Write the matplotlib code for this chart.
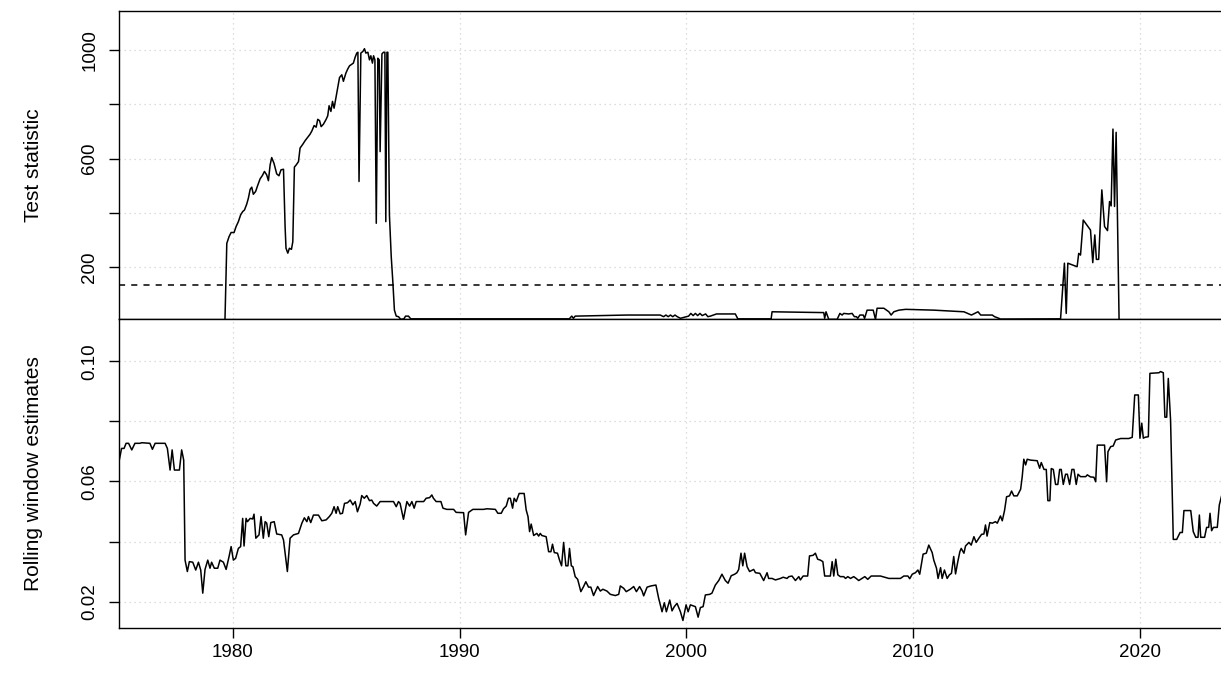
import matplotlib
matplotlib.use("Agg")
import matplotlib.pyplot as plt

plt.rcParams['font.family'] = ['Liberation Sans', 'DejaVu Sans']

# test statistic (top panel)
stat_year = [1979.66, 1979.74, 1979.84, 1979.93, 1980.06, 1980.15, 1980.25, 1980.35, 1980.44,
             1980.52, 1980.62, 1980.69, 1980.77, 1980.84, 1980.91, 1981.01, 1981.10, 1981.21,
             1981.31, 1981.40, 1981.50, 1981.575, 1981.65, 1981.72, 1981.82, 1981.94, 1982.04,
             1982.13, 1982.24, 1982.31, 1982.35, 1982.43, 1982.50, 1982.59, 1982.65, 1982.72,
             1982.80, 1982.90, 1982.97, 1983.09, 1983.19, 1983.31, 1983.41, 1983.49, 1983.59,
             1983.68, 1983.75, 1983.83, 1983.90, 1984.00, 1984.12, 1984.19, 1984.25, 1984.33,
             1984.40, 1984.47, 1984.55, 1984.62, 1984.71, 1984.81, 1984.88, 1984.99, 1985.07,
             1985.15, 1985.25, 1985.32, 1985.40, 1985.47, 1985.52, 1985.57, 1985.65, 1985.74,
             1985.81, 1985.87, 1985.96, 1986.03, 1986.09, 1986.16, 1986.21, 1986.27, 1986.33,
             1986.40, 1986.46, 1986.50, 1986.58, 1986.65, 1986.71, 1986.75, 1986.80, 1986.84,
             1986.91, 1986.99, 1987.06, 1987.13, 1987.21, 1987.31, 1987.41, 1987.55, 1987.62,
             1987.75, 1987.85, 1994.85, 1994.88, 1994.95, 1995.02, 1995.10, 1997.38, 1998.85,
             1999.00, 1999.10, 1999.20, 1999.30, 1999.40, 1999.50, 1999.60, 1999.74, 2000.10,
             2000.20, 2000.30, 2000.40, 2000.50, 2000.60, 2000.70, 2000.85, 2000.95, 2001.06,
             2001.33, 2002.16, 2002.27, 2003.74, 2003.78, 2006.06, 2006.10, 2006.16, 2006.28,
             2006.65, 2006.77, 2006.87, 2006.94, 2007.16, 2007.31, 2007.41, 2007.50, 2007.56,
             2007.65, 2007.80, 2007.86, 2007.97, 2008.24, 2008.34, 2008.41, 2008.71, 2008.93,
             2009.03, 2009.15, 2009.37, 2009.67, 2010.92, 2012.24, 2012.57, 2012.86, 2012.98,
             2013.49, 2013.59, 2013.78, 2013.85, 2016.50, 2016.67, 2016.75, 2016.82, 2017.23,
             2017.30, 2017.38, 2017.50, 2017.82, 2017.92, 2018.01, 2018.08, 2018.18, 2018.32,
             2018.44, 2018.57, 2018.66, 2018.73, 2018.81, 2018.88, 2018.95, 2019.08]
stat_val = [8, 288, 313, 328, 328, 350, 368, 393, 405,
            411, 433, 454, 487, 495, 469, 479, 501, 526,
            538, 553, 540, 519, 577, 604, 583, 544, 537,
            559, 561, 350, 270, 252, 270, 266, 294, 569,
            577, 589, 639, 653, 666, 679, 690, 702, 722,
            716, 745, 740, 718, 727, 745, 758, 795, 774,
            811, 786, 823, 854, 899, 909, 885, 915, 930,
            942, 948, 952, 974, 989, 992, 516, 989, 995,
            1005, 989, 992, 964, 979, 952, 979, 964, 362,
            970, 964, 626, 986, 992, 992, 368, 992, 992,
            393, 239, 147, 42, 20, 18, 8, 10, 20,
            20, 10, 10, 14, 20, 12, 20, 24, 24,
            18, 24, 18, 24, 18, 24, 18, 12, 20,
            30, 22, 30, 22, 30, 22, 28, 18, 20,
            28, 28, 10, 10, 36, 33, 12, 36, 8,
            8, 30, 24, 30, 28, 30, 18, 18, 12,
            24, 24, 12, 42, 42, 8, 49, 49, 36,
            24, 36, 42, 45, 42, 36, 24, 36, 24,
            24, 18, 12, 9, 10, 215, 30, 215, 202,
            251, 245, 374, 337, 217, 319, 229, 229, 485,
            350, 335, 442, 426, 709, 424, 697, 8]
crit_value = 136

# rolling window estimates (bottom panel)
roll_year = [1975.00, 1975.10, 1975.21, 1975.30, 1975.41, 1975.55, 1975.69, 1975.91, 1975.99,
             1976.35, 1976.46, 1976.58, 1977.02, 1977.12, 1977.24, 1977.33, 1977.43, 1977.65,
             1977.75, 1977.84, 1977.90, 1978.00, 1978.09, 1978.24, 1978.37, 1978.49, 1978.59,
             1978.68, 1978.78, 1978.90, 1979.00, 1979.07, 1979.19, 1979.34, 1979.44, 1979.59,
             1979.71, 1979.84, 1979.93, 1980.03, 1980.13, 1980.25, 1980.35, 1980.44, 1980.50,
             1980.59, 1980.65, 1980.77, 1980.88, 1980.94, 1981.02, 1981.16, 1981.25, 1981.35,
             1981.43, 1981.50, 1981.59, 1981.68, 1981.83, 1981.94, 1982.16, 1982.24, 1982.41,
             1982.53, 1982.68, 1982.90, 1983.05, 1983.16, 1983.27, 1983.34, 1983.44, 1983.56,
             1983.78, 1983.93, 1984.12, 1984.26, 1984.37, 1984.47, 1984.56, 1984.63, 1984.74,
             1984.84, 1984.93, 1985.06, 1985.18, 1985.30, 1985.40, 1985.50, 1985.62, 1985.69,
             1985.80, 1985.91, 1986.03, 1986.13, 1986.21, 1986.35, 1986.50, 1987.09, 1987.21,
             1987.31, 1987.38, 1987.53, 1987.68, 1987.80, 1987.90, 1988.00, 1988.09, 1988.42,
             1988.53, 1988.68, 1988.78, 1988.85, 1988.97, 1989.18, 1989.27, 1989.44, 1989.74,
             1989.85, 1990.18, 1990.27, 1990.40, 1990.59, 1991.06, 1991.21, 1991.58, 1991.69,
             1991.84, 1991.94, 1992.06, 1992.16, 1992.24, 1992.34, 1992.41, 1992.50, 1992.63,
             1992.85, 1992.94, 1993.02, 1993.09, 1993.16, 1993.27, 1993.41, 1993.49, 1993.56,
             1993.63, 1993.82, 1993.93, 1994.03, 1994.10, 1994.18, 1994.32, 1994.41, 1994.50,
             1994.59, 1994.69, 1994.78, 1994.85, 1994.93, 1995.00, 1995.10, 1995.21, 1995.35,
             1995.47, 1995.57, 1995.69, 1995.79, 1995.91, 1996.09, 1996.21, 1996.32, 1996.50,
             1996.65, 1996.87, 1997.02, 1997.09, 1997.24, 1997.35, 1997.53, 1997.68, 1997.80,
             1997.94, 1998.05, 1998.12, 1998.27, 1998.44, 1998.66, 1998.78, 1998.93, 1999.03,
             1999.12, 1999.27, 1999.37, 1999.47, 1999.59, 1999.74, 1999.85, 1999.99, 2000.08,
             2000.18, 2000.40, 2000.52, 2000.62, 2000.74, 2000.84, 2001.03, 2001.13, 2001.28,
             2001.43, 2001.57, 2001.72, 2001.84, 2001.98, 2002.13, 2002.23, 2002.31, 2002.41,
             2002.49, 2002.57, 2002.68, 2002.79, 2002.97, 2003.05, 2003.24, 2003.41, 2003.56,
             2003.63, 2003.78, 2003.93, 2004.15, 2004.27, 2004.44, 2004.52, 2004.66, 2004.81,
             2004.96, 2005.03, 2005.15, 2005.35, 2005.43, 2005.59, 2005.69, 2005.79, 2005.91,
             2006.02, 2006.10, 2006.35, 2006.43, 2006.50, 2006.59, 2006.68, 2006.79, 2006.94,
             2007.02, 2007.12, 2007.24, 2007.38, 2007.49, 2007.60, 2007.75, 2007.87, 2008.00,
             2008.15, 2008.56, 2008.93, 2009.44, 2009.59, 2009.77, 2009.85, 2009.96, 2010.10,
             2010.21, 2010.29, 2010.44, 2010.58, 2010.69, 2010.84, 2010.91, 2011.03, 2011.10,
             2011.21, 2011.28, 2011.38, 2011.50, 2011.60, 2011.69, 2011.79, 2011.87, 2011.97,
             2012.06, 2012.12, 2012.24, 2012.31, 2012.46, 2012.56, 2012.68, 2012.78, 2012.90,
             2013.02, 2013.12, 2013.19, 2013.26, 2013.38, 2013.49, 2013.63, 2013.71, 2013.85,
             2013.93, 2014.03, 2014.12, 2014.25, 2014.34, 2014.44, 2014.59, 2014.74, 2014.81,
             2014.88, 2014.96, 2015.03, 2015.18, 2015.47, 2015.58, 2015.65, 2015.77, 2015.87,
             2015.94, 2016.03, 2016.09, 2016.18, 2016.28, 2016.38, 2016.46, 2016.53, 2016.62,
             2016.72, 2016.80, 2016.90, 2017.00, 2017.09, 2017.19, 2017.27, 2017.38, 2017.61,
             2017.68, 2017.82, 2017.97, 2018.05, 2018.12, 2018.44, 2018.53, 2018.59, 2018.71,
             2018.82, 2018.93, 2019.15, 2019.51, 2019.66, 2019.77, 2019.93, 2020.00, 2020.08,
             2020.15, 2020.22, 2020.37, 2020.44, 2020.84, 2020.91, 2021.03, 2021.10, 2021.18,
             2021.25, 2021.35, 2021.47, 2021.62, 2021.77, 2021.87, 2021.94, 2022.24, 2022.35,
             2022.46, 2022.56, 2022.62, 2022.68, 2022.85, 2022.94, 2023.03, 2023.09, 2023.16,
             2023.24, 2023.41, 2023.50, 2023.60]
roll_est = [0.0671, 0.0710, 0.0710, 0.0727, 0.0727, 0.0705, 0.0727, 0.0727, 0.0729,
            0.0727, 0.0707, 0.0727, 0.0727, 0.0710, 0.0638, 0.0705, 0.0638, 0.0638,
            0.0705, 0.0671, 0.0338, 0.0300, 0.0333, 0.0331, 0.0305, 0.0331, 0.0305,
            0.0228, 0.0307, 0.0338, 0.0311, 0.0331, 0.0311, 0.0311, 0.0338, 0.0331,
            0.0307, 0.0350, 0.0383, 0.0338, 0.0344, 0.0377, 0.0383, 0.0477, 0.0385,
            0.0477, 0.0466, 0.0477, 0.0475, 0.0491, 0.0411, 0.0422, 0.0483, 0.0411,
            0.0466, 0.0461, 0.0416, 0.0463, 0.0466, 0.0425, 0.0422, 0.0405, 0.0300,
            0.0411, 0.0422, 0.0427, 0.0461, 0.0479, 0.0466, 0.0483, 0.0463, 0.0488,
            0.0488, 0.0469, 0.0472, 0.0483, 0.0494, 0.0516, 0.0494, 0.0516, 0.0492,
            0.0494, 0.0527, 0.0529, 0.0538, 0.0522, 0.0533, 0.0499, 0.0525, 0.0553,
            0.0544, 0.0553, 0.0536, 0.0538, 0.0527, 0.0518, 0.0533, 0.0533, 0.0516,
            0.0533, 0.0527, 0.0474, 0.0533, 0.0518, 0.0533, 0.0511, 0.0533, 0.0533,
            0.0544, 0.0546, 0.0555, 0.0544, 0.0533, 0.0533, 0.0511, 0.0507, 0.0507,
            0.0497, 0.0496, 0.0422, 0.0497, 0.0507, 0.0507, 0.0509, 0.0507, 0.0494,
            0.0494, 0.0509, 0.0518, 0.0544, 0.0544, 0.0511, 0.0544, 0.0533, 0.0560,
            0.0560, 0.0505, 0.0483, 0.0433, 0.0458, 0.0420, 0.0427, 0.0418, 0.0427,
            0.0420, 0.0416, 0.0366, 0.0366, 0.0391, 0.0363, 0.0361, 0.0338, 0.0319,
            0.0397, 0.0319, 0.0319, 0.0377, 0.0319, 0.0316, 0.0283, 0.0274, 0.0233,
            0.0250, 0.0266, 0.0248, 0.0248, 0.0220, 0.0250, 0.0235, 0.0241, 0.0235,
            0.0224, 0.0220, 0.0224, 0.0252, 0.0244, 0.0233, 0.0241, 0.0250, 0.0233,
            0.0250, 0.0235, 0.0219, 0.0248, 0.0252, 0.0255, 0.0211, 0.0166, 0.0196,
            0.0166, 0.0205, 0.0169, 0.0183, 0.0194, 0.0166, 0.0137, 0.0189, 0.0166,
            0.0189, 0.0183, 0.0148, 0.0180, 0.0183, 0.0222, 0.0224, 0.0228, 0.0255,
            0.0270, 0.0291, 0.0270, 0.0261, 0.0286, 0.0291, 0.0296, 0.0307, 0.0361,
            0.0319, 0.0361, 0.0316, 0.0300, 0.0307, 0.0296, 0.0294, 0.0270, 0.0296,
            0.0277, 0.0277, 0.0272, 0.0277, 0.0281, 0.0277, 0.0283, 0.0285, 0.0270,
            0.0283, 0.0272, 0.0285, 0.0285, 0.0352, 0.0354, 0.0361, 0.0341, 0.0338,
            0.0333, 0.0285, 0.0285, 0.0333, 0.0285, 0.0341, 0.0289, 0.0283, 0.0283,
            0.0277, 0.0283, 0.0277, 0.0283, 0.0277, 0.0270, 0.0277, 0.0283, 0.0274,
            0.0285, 0.0285, 0.0277, 0.0277, 0.0285, 0.0285, 0.0276, 0.0291, 0.0296,
            0.0305, 0.0291, 0.0358, 0.0361, 0.0388, 0.0363, 0.0338, 0.0311, 0.0277,
            0.0313, 0.0277, 0.0305, 0.0277, 0.0289, 0.0294, 0.0350, 0.0292, 0.0333,
            0.0366, 0.0377, 0.0361, 0.0385, 0.0397, 0.0388, 0.0416, 0.0397, 0.0411,
            0.0424, 0.0425, 0.0455, 0.0418, 0.0463, 0.0461, 0.0466, 0.0461, 0.0485,
            0.0469, 0.0503, 0.0549, 0.0552, 0.0568, 0.0552, 0.0552, 0.0574, 0.0616,
            0.0674, 0.0655, 0.0674, 0.0671, 0.0669, 0.0644, 0.0663, 0.0640, 0.0640,
            0.0536, 0.0536, 0.0643, 0.0640, 0.0590, 0.0590, 0.0640, 0.0640, 0.0590,
            0.0624, 0.0624, 0.0590, 0.0640, 0.0640, 0.0590, 0.0624, 0.0616, 0.0616,
            0.0622, 0.0615, 0.0614, 0.0599, 0.0721, 0.0721, 0.0599, 0.0699, 0.0716,
            0.0718, 0.0738, 0.0743, 0.0743, 0.0747, 0.0888, 0.0888, 0.0744, 0.0794,
            0.0744, 0.0747, 0.0749, 0.0960, 0.0962, 0.0966, 0.0962, 0.0814, 0.0814,
            0.0943, 0.0805, 0.0407, 0.0407, 0.0430, 0.0430, 0.0503, 0.0503, 0.0433,
            0.0414, 0.0414, 0.0488, 0.0414, 0.0414, 0.0447, 0.0447, 0.0494, 0.0436,
            0.0447, 0.0447, 0.0522, 0.0552]

year_ticks = [1980, 1990, 2000, 2010, 2020]
stat_ticks = [200, 400, 600, 800, 1000]
stat_labels = ['200', '', '600', '', '1000']
roll_ticks = [0.02, 0.04, 0.06, 0.08, 0.10]
roll_labels = ['0.02', '', '0.06', '', '0.10']

fig = plt.figure(figsize=(12.21, 6.83), dpi=100)
ax1 = fig.add_axes([0.0977, 0.5325, 0.9039, 0.4518])
ax2 = fig.add_axes([0.0977, 0.081, 0.9039, 0.4515])

grid_kw = dict(color='#D3D3D3', linestyle=(0, (1, 3)), linewidth=0.9)

for ax in (ax1, ax2):
    ax.set_xlim(1975.0, 2023.66)
    for yr in year_ticks:
        ax.axvline(yr, zorder=0, **grid_kw)
    for s in ax.spines.values():
        s.set_linewidth(1.0)
    ax.tick_params(axis='y', direction='out', length=7, width=1.0, labelsize=13.5, pad=8)
    ax.tick_params(axis='x', direction='out', length=7, width=1.0, labelsize=13.5, pad=5)

# top panel
ax1.plot(stat_year, stat_val, color='black', linewidth=1.1)
ax1.axhline(crit_value, color='black', linestyle=(0, (4, 4)), linewidth=1.1)
for v in stat_ticks:
    ax1.axhline(v, zorder=0, **grid_kw)
ax1.set_ylim(8.3, 1145)
ax1.set_yticks(stat_ticks)
ax1.set_yticklabels(stat_labels, rotation=90, va='center')
ax1.set_xticks([])
ax1.set_ylabel('Test statistic', fontsize=15, va='center')
ax1.yaxis.set_label_coords(-0.078, 0.5)

# bottom panel
ax2.plot(roll_year, roll_est, color='black', linewidth=1.1)
for v in roll_ticks:
    ax2.axhline(v, zorder=0, **grid_kw)
ax2.set_ylim(0.0113, 0.114)
ax2.set_yticks(roll_ticks)
ax2.set_yticklabels(roll_labels, rotation=90, va='center')
ax2.set_xticks(year_ticks)
ax2.set_xticklabels([str(y) for y in year_ticks])
ax2.set_ylabel('Rolling window estimates', fontsize=15, va='center')
ax2.yaxis.set_label_coords(-0.078, 0.5)

fig.savefig('out.png', dpi=100)
